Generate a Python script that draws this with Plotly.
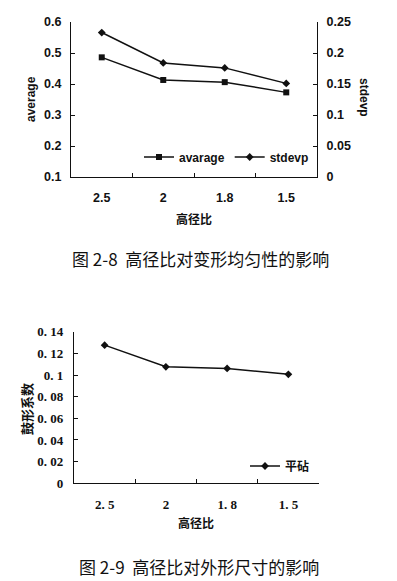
import plotly.graph_objects as go

# ---- data ----
ratio = ["2.5", "2", "1.8", "1.5"]                 # 高径比 categories (chart 2-8)
ratio_serif = ["2. 5", "2", "1. 8", "1. 5"]        # same categories, as labelled in chart 2-9
average = [0.486, 0.413, 0.406, 0.373]
stdevp = [0.233, 0.184, 0.176, 0.151]
drum = [0.1276, 0.1076, 0.1061, 0.1006]            # 鼓形系数, 平砧
drum_tickvals = [0, 0.02, 0.04, 0.06, 0.08, 0.1, 0.12, 0.14]
drum_ticktext = ["0", "0. 02", "0. 04", "0. 06", "0. 08", "0. 1", "0. 12", "0. 14"]

W, H = 397, 581
def fx(px):
    return px / W
def fy(py):
    return 1 - py / H

SANS = "Liberation Sans, Arial, sans-serif"
SERIF = "Liberation Serif, Times New Roman, serif"
CJK = "Noto Sans CJK SC"
BLACK = "#111111"

fig = go.Figure()

fig.add_trace(go.Scatter(
    x=ratio, y=average, name="avarage", xaxis="x", yaxis="y",
    mode="lines+markers", line=dict(color=BLACK, width=1.5),
    marker=dict(symbol="square", size=6, color=BLACK), legend="legend"))
fig.add_trace(go.Scatter(
    x=ratio, y=stdevp, name="stdevp", xaxis="x", yaxis="y2",
    mode="lines+markers", line=dict(color=BLACK, width=1.5),
    marker=dict(symbol="diamond", size=6, color=BLACK), legend="legend"))
fig.add_trace(go.Scatter(
    x=ratio_serif, y=drum, name="平砧", xaxis="x2", yaxis="y3",
    mode="lines+markers", line=dict(color=BLACK, width=1.5),
    marker=dict(symbol="diamond", size=6, color=BLACK), legend="legend2"))

axis_common = dict(showline=True, linecolor=BLACK, linewidth=1.2, ticks="inside",
                   ticklen=4, tickcolor=BLACK, showgrid=False, zeroline=False,
                   automargin=False)

fig.update_layout(
    width=W, height=H, margin=dict(l=0, r=0, t=0, b=0, autoexpand=False),
    paper_bgcolor="white", plot_bgcolor="white",
    xaxis=dict(domain=[fx(71), fx(317)], anchor="y", type="category",
               range=[-0.5, 3.5], tickson="boundaries",
               tickfont=dict(family=SANS, size=12.5, color=BLACK, weight="bold"),
               ticklabelstandoff=9, **axis_common),
    yaxis=dict(domain=[fy(177), fy(22)], anchor="x", range=[0.1, 0.6], dtick=0.1,
               tickfont=dict(family=SANS, size=12.5, color=BLACK, weight="bold"),
               ticklabelstandoff=6, **axis_common),
    yaxis2=dict(overlaying="y", side="right", anchor="x", range=[0, 0.25], dtick=0.05,
                tickfont=dict(family=SANS, size=12.5, color=BLACK, weight="bold"),
                ticklabelstandoff=6, **axis_common),
    xaxis2=dict(domain=[fx(74), fx(319)], anchor="y3", type="category",
                range=[-0.5, 3.5], tickson="boundaries",
                tickfont=dict(family=SERIF, size=13, color=BLACK, weight="bold"),
                ticklabelstandoff=9, **axis_common),
    yaxis3=dict(domain=[fy(483.3), fy(331.7)], anchor="x2", range=[0, 0.14],
                tickvals=drum_tickvals, ticktext=drum_ticktext,
                tickfont=dict(family=SERIF, size=13, color=BLACK, weight="bold"),
                ticklabelstandoff=7, **axis_common),
    legend=dict(orientation="h", x=fx(314), xanchor="right", y=fy(157), yanchor="middle",
                bgcolor="rgba(0,0,0,0)", itemwidth=30, tracegroupgap=0,
                font=dict(family=SANS, size=12, color=BLACK, weight="bold")),
    legend2=dict(orientation="h", x=fx(315), xanchor="right", y=fy(466), yanchor="middle",
                 bgcolor="rgba(0,0,0,0)", itemwidth=30,
                 font=dict(family=CJK, size=12, color=BLACK, weight="bold")),
    showlegend=True,
)

annos = [
    dict(text="高径比", x=fx(194), y=fy(218), font=dict(family=CJK, size=12, weight="bold")),
    dict(text="average", x=fx(31), y=fy(99), textangle=-90,
         font=dict(family=SANS, size=12, weight="bold")),
    dict(text="stdevp", x=fx(364), y=fy(97), textangle=90,
         font=dict(family=SANS, size=12, weight="bold")),
    dict(text="图 2-8  高径比对变形均匀性的影响", x=fx(200), y=fy(258),
         font=dict(family=CJK, size=17)),
    dict(text="高径比", x=fx(196), y=fy(522), font=dict(family=CJK, size=12, weight="bold")),
    dict(text="鼓形系数", x=fx(27), y=fy(409), textangle=-90,
         font=dict(family=CJK, size=13, weight="bold")),
    dict(text="图 2-9  高径比对外形尺寸的影响", x=fx(199), y=fy(566),
         font=dict(family=CJK, size=17)),
]
for a in annos:
    a["font"]["color"] = BLACK
    fig.add_annotation(xref="paper", yref="paper", xanchor="center", yanchor="middle",
                       showarrow=False, **a)

fig.write_html(
    "out.html",
    config={"displayModeBar": False},
    post_script="document.documentElement.style.margin='0';"
                "document.body.style.margin='0';"
                "document.body.style.overflow='hidden';",
)
